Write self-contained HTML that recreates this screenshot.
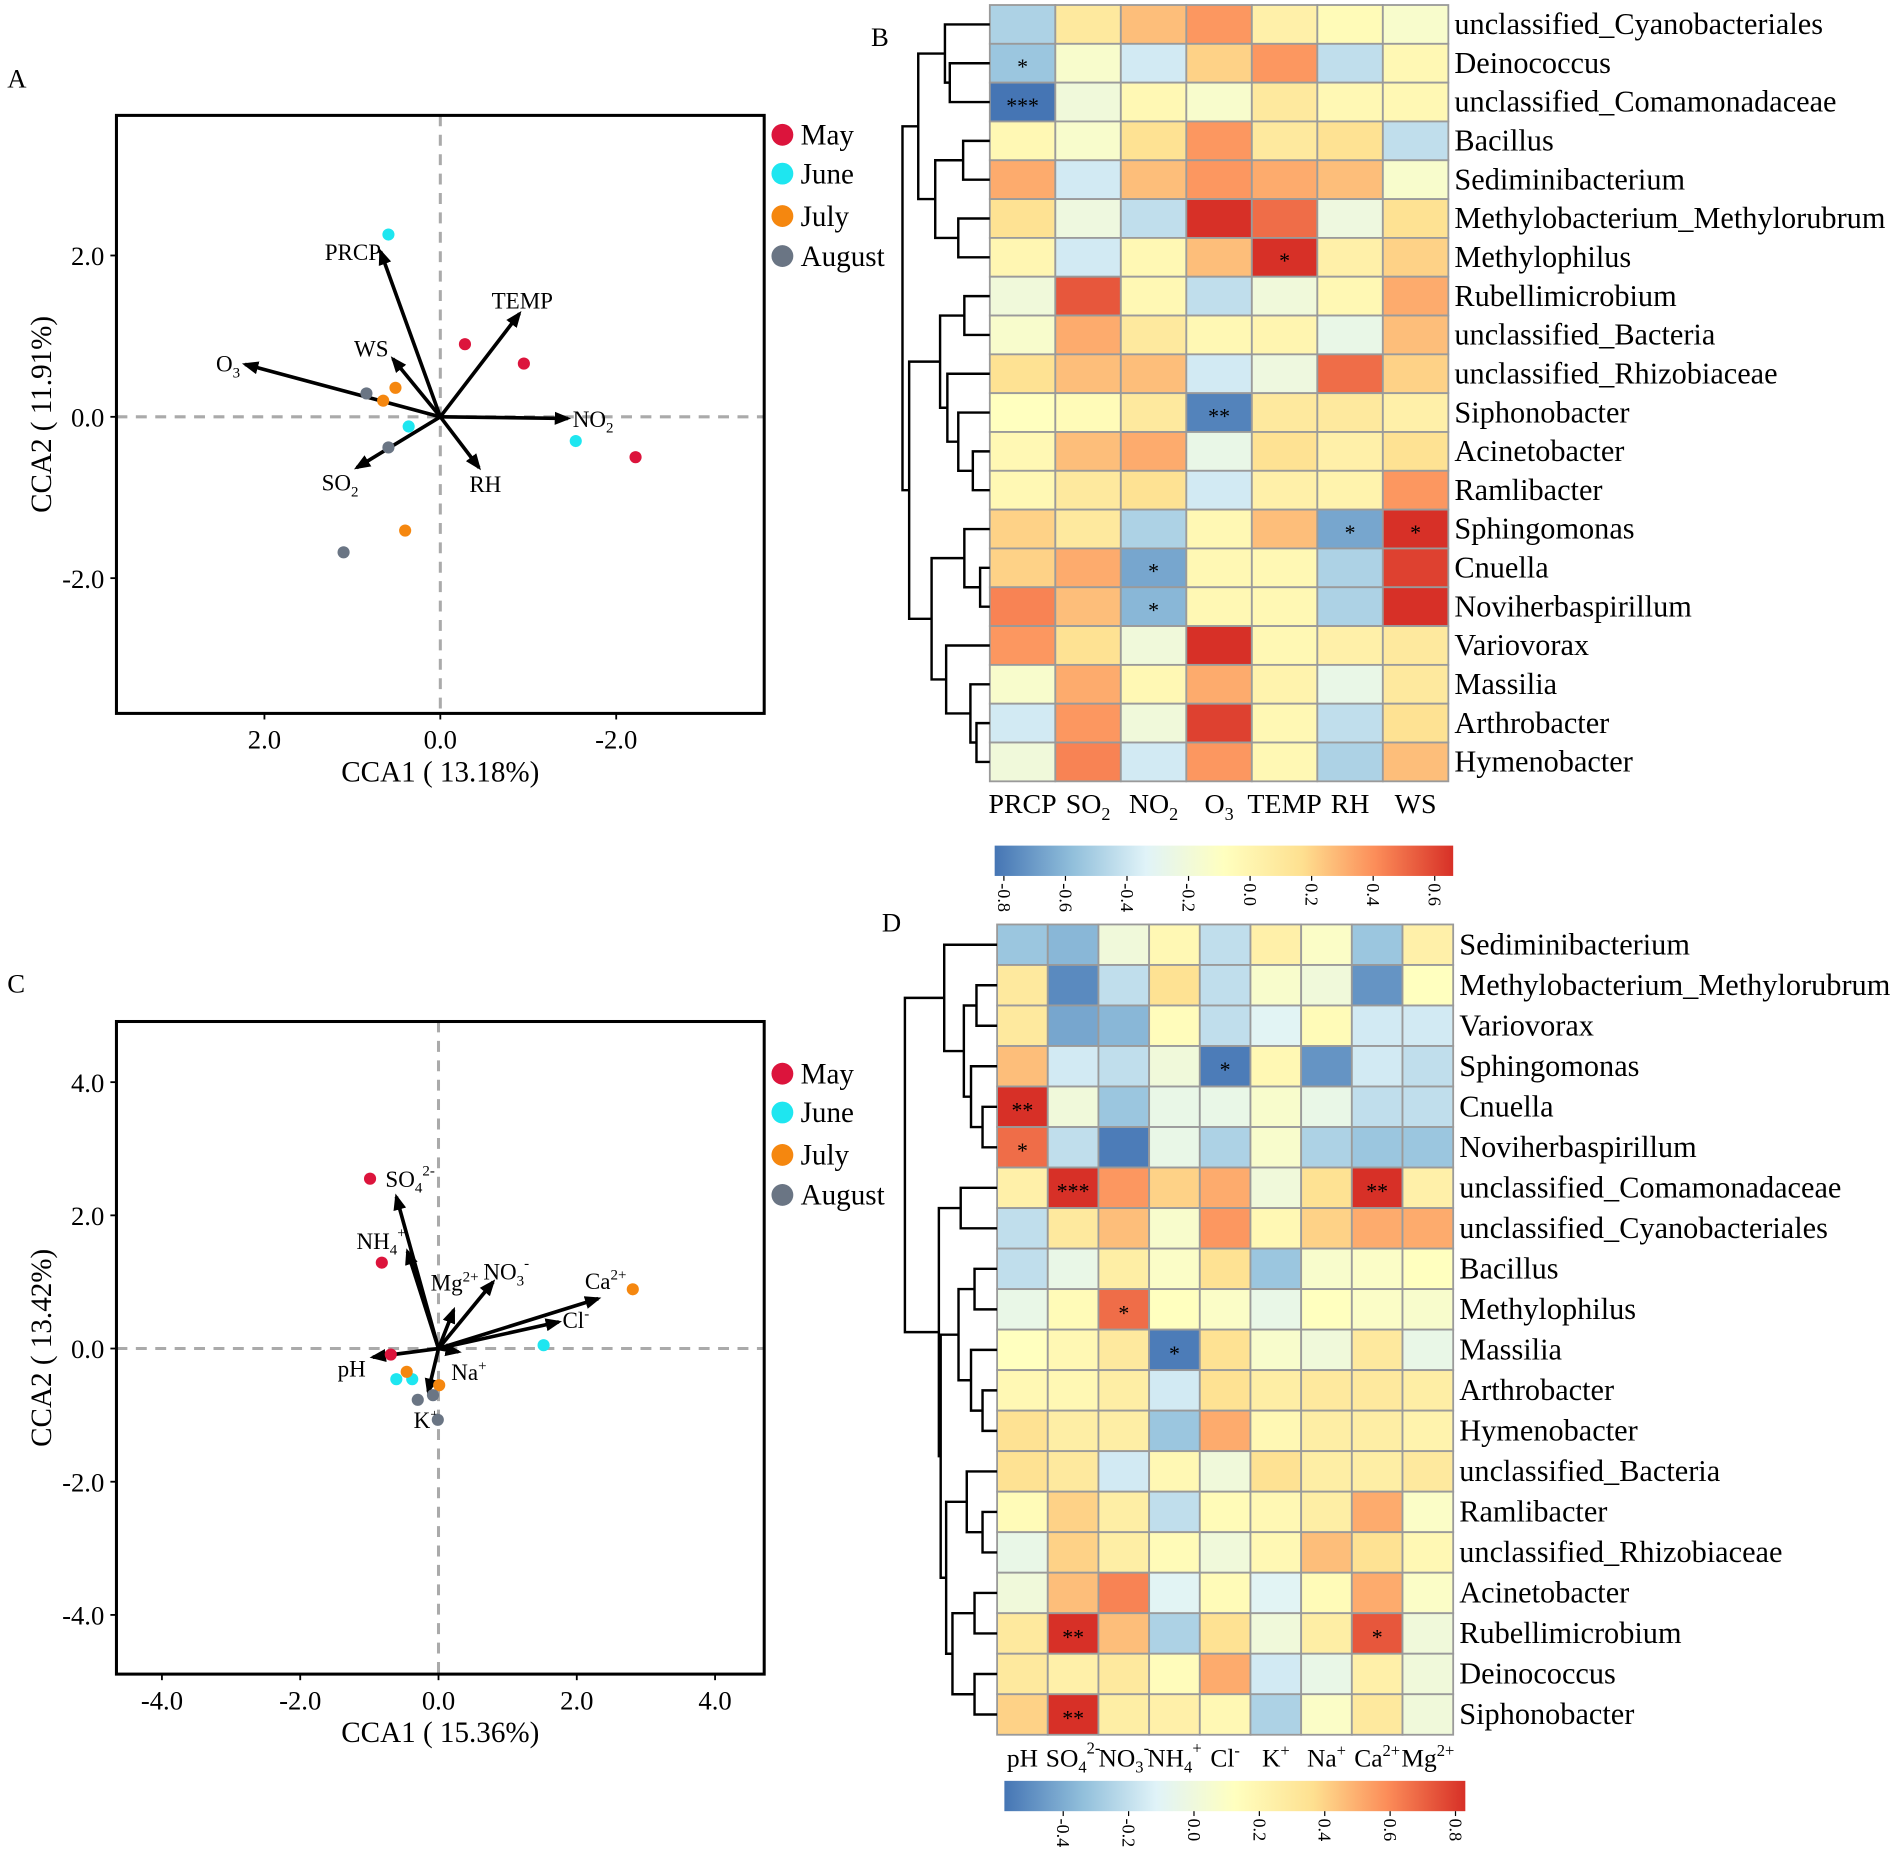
<!DOCTYPE html>
<html><head><meta charset="utf-8">
<style>
html,body{margin:0;padding:0;background:#fff;}
svg{display:block;font-family:"Liberation Serif",serif;}
</style></head>
<body>
<svg id="fig" width="1902" height="1855" viewBox="0 0 1568 1529" xmlns="http://www.w3.org/2000/svg">
<defs>
<marker id="ah" viewBox="0 0 10 10" refX="8" refY="5" markerWidth="4.5" markerHeight="4.5" orient="auto"><path d="M0,1 L10,5 L0,9 z" fill="#000"/></marker>
<linearGradient id="cbar" x1="0" x2="1" y1="0" y2="0">
<stop offset="0" stop-color="#4575b4"/><stop offset="0.17" stop-color="#91bfdb"/><stop offset="0.33" stop-color="#e0f3f8"/><stop offset="0.5" stop-color="#ffffbf"/><stop offset="0.67" stop-color="#fee090"/><stop offset="0.83" stop-color="#fc8d59"/><stop offset="1" stop-color="#d73027"/>
</linearGradient>
</defs>
<g id="root"></g>
</svg>
<script>
// ---------- Panel A data ----------
const aMayX=[-0.28,-0.95,-2.22], aMayY=[0.90,0.66,-0.50];
const aJunX=[0.59,0.36,-1.54], aJunY=[2.26,-0.12,-0.30];
const aJulX=[0.51,0.65,0.40], aJulY=[0.36,0.20,-1.41];
const aAugX=[0.84,0.59,1.10], aAugY=[0.29,-0.38,-1.68];
const aVarNames=["PRCP","TEMP","WS","O3","NO2","SO2","RH"];
const aVarX=[0.68,-0.90,0.54,2.22,-1.45,0.95,-0.44];
const aVarY=[2.05,1.28,0.72,0.65,-0.02,-0.63,-0.63];
const aXTicks=[2,0,-2], aYTicks=[2,0,-2];
// ---------- Panel C data ----------
const cMayX=[-0.99,-0.82,-0.69], cMayY=[2.55,1.29,-0.09];
const cJunX=[1.52,-0.61,-0.38], cJunY=[0.05,-0.46,-0.46];
const cJulX=[2.81,-0.46,0.01], cJulY=[0.89,-0.35,-0.55];
const cAugX=[-0.30,-0.08,-0.01], cAugY=[-0.77,-0.70,-1.07];
const cVarNames=["SO4","NH4","Mg","NO3","Ca","Cl","pH","Na","K"];
const cVarX=[-0.61,-0.45,0.22,0.79,2.31,1.74,-0.95,0.29,-0.15];
const cVarY=[2.28,1.46,0.58,1.00,0.75,0.40,-0.13,-0.05,-0.65];
const cXTicks=[-4,-2,0,2,4], cYTicks=[4,2,0,-2,-4];
// ---------- Panel B data ----------
const bRows=["unclassified_Cyanobacteriales","Deinococcus","unclassified_Comamonadaceae","Bacillus","Sediminibacterium","Methylobacterium_Methylorubrum","Methylophilus","Rubellimicrobium","unclassified_Bacteria","unclassified_Rhizobiaceae","Siphonobacter","Acinetobacter","Ramlibacter","Sphingomonas","Cnuella","Noviherbaspirillum","Variovorax","Massilia","Arthrobacter","Hymenobacter"];
const bCols=["PRCP","SO2","NO2","O3","TEMP","RH","WS"];
const bVals=[
[-0.35,0.15,0.30,0.40,0.10,0.03,-0.05],
[-0.40,-0.05,-0.25,0.25,0.40,-0.30,0.05],
[-0.75,-0.10,0.05,-0.05,0.15,0.05,0.05],
[0.05,-0.05,0.20,0.40,0.15,0.20,-0.30],
[0.35,-0.25,0.30,0.40,0.35,0.30,-0.05],
[0.20,-0.12,-0.30,0.65,0.50,-0.12,0.20],
[0.06,-0.25,0.05,0.30,0.70,0.10,0.25],
[-0.10,0.55,0.05,-0.30,-0.10,0.05,0.35],
[-0.05,0.35,0.15,0.05,0.07,-0.15,0.30],
[0.20,0.30,0.30,-0.25,-0.12,0.50,0.25],
[0.00,0.03,0.15,-0.60,0.15,0.15,0.10],
[0.05,0.30,0.35,-0.15,0.20,0.10,0.20],
[0.05,0.15,0.20,-0.25,0.10,0.08,0.40],
[0.25,0.15,-0.35,0.05,0.30,-0.50,0.75],
[0.25,0.35,-0.50,0.05,0.05,-0.35,0.60],
[0.45,0.30,-0.45,0.05,0.05,-0.35,0.65],
[0.40,0.20,-0.10,0.65,0.05,0.10,0.15],
[-0.05,0.35,0.05,0.35,0.08,-0.15,0.15],
[-0.25,0.40,-0.10,0.60,0.05,-0.30,0.20],
[-0.10,0.45,-0.25,0.40,0.05,-0.35,0.30]];
const bStars=[[1,0,"*"],[2,0,"***"],[6,4,"*"],[10,3,"**"],[13,5,"*"],[13,6,"*"],[14,2,"*"],[15,2,"*"]];
const bTicks=[-0.8,-0.6,-0.4,-0.2,0.0,0.2,0.4,0.6];
const bTree=[72,[59,[37,0,[33,1,2]],[45,[22,3,4],[26,5,6]]],[66.5,[41,[21,7,8],[35,9,[26,10,[14,11,12]]]],[48,[21,13,[8,14,15]],[36,16,[16,17,[11,18,19]]]]]];
// ---------- Panel D data ----------
const dRows=["Sediminibacterium","Methylobacterium_Methylorubrum","Variovorax","Sphingomonas","Cnuella","Noviherbaspirillum","unclassified_Comamonadaceae","unclassified_Cyanobacteriales","Bacillus","Methylophilus","Massilia","Arthrobacter","Hymenobacter","unclassified_Bacteria","Ramlibacter","unclassified_Rhizobiaceae","Acinetobacter","Rubellimicrobium","Deinococcus","Siphonobacter"];
const dCols=["pH","SO4","NO3","NH4","Cl","K","Na","Ca","Mg"];
const dVals=[
[-0.40,-0.45,-0.10,0.05,-0.30,0.10,-0.03,-0.40,0.10],
[0.15,-0.58,-0.30,0.20,-0.30,-0.05,-0.10,-0.55,0.00],
[0.15,-0.50,-0.45,0.02,-0.30,-0.20,0.03,-0.25,-0.25],
[0.30,-0.25,-0.30,-0.10,-0.62,0.05,-0.55,-0.25,-0.30],
[0.65,-0.10,-0.40,-0.15,-0.15,-0.05,-0.15,-0.30,-0.30],
[0.50,-0.30,-0.62,-0.15,-0.35,-0.05,-0.35,-0.40,-0.40],
[0.10,0.75,0.40,0.25,0.35,-0.10,0.20,0.65,0.10],
[-0.30,0.15,0.30,-0.05,0.40,0.05,0.25,0.35,0.35],
[-0.30,-0.15,0.12,-0.03,0.20,-0.40,-0.05,-0.03,0.00],
[-0.15,0.03,0.50,0.00,-0.03,-0.15,0.00,-0.03,-0.05],
[0.00,0.05,0.15,-0.62,0.20,-0.05,-0.10,0.15,-0.15],
[0.05,0.05,0.12,-0.25,0.20,0.12,0.15,0.15,0.12],
[0.20,0.12,0.12,-0.40,0.35,0.05,0.12,0.12,0.08],
[0.20,0.15,-0.25,0.05,-0.10,0.20,0.12,0.12,0.15],
[0.03,0.25,0.12,-0.30,0.03,0.05,0.12,0.35,-0.03],
[-0.15,0.25,0.12,0.03,-0.10,0.05,0.30,0.20,0.05],
[-0.10,0.30,0.45,-0.20,0.03,-0.20,0.03,0.35,-0.03],
[0.15,0.65,0.30,-0.35,0.20,-0.10,0.12,0.55,-0.10],
[0.15,0.10,0.15,0.02,0.35,-0.25,-0.15,0.10,-0.10],
[0.25,0.65,0.12,0.10,0.05,-0.35,-0.03,0.15,-0.10]];
const dStars=[[4,0,"**"],[5,0,"*"],[6,1,"***"],[6,7,"**"],[3,4,"*"],[9,2,"*"],[10,3,"*"],[17,1,"**"],[17,7,"*"],[19,1,"**"]];
const dTicks=[-0.4,-0.2,0.0,0.2,0.4,0.6,0.8];
const dTree=[76,[43.6,0,[27.4,[17,1,2],[21.5,3,[12,4,5]]]],[48,[30,6,7],[46.5,[31.8,[18.6,8,9],[21.5,10,[12,11,12]]],[42,[25,13,[12,14,15]],[36.8,[18.6,16,17],[18.6,18,19]]]]]];

const NS="http://www.w3.org/2000/svg";
const root=document.getElementById('root');
function mk(tag,attrs,parent){const e=document.createElementNS(NS,tag);for(const k in attrs)e.setAttribute(k,attrs[k]);(parent||root).appendChild(e);return e;}
function txt(x,y,s,size,anchor,parent){const t=mk('text',{x:x,y:y,'font-size':size,'text-anchor':anchor||'start',fill:'#000'},parent);t.textContent=s;return t;}
function richLabel(x,y,base,sub,sup,size,anchor,parent){
  const t=mk('text',{x:x,y:y,'font-size':size,'text-anchor':anchor||'start',fill:'#000'},parent);
  t.appendChild(document.createTextNode(base));
  if(sub){const s=mk('tspan',{'font-size':size*0.65,dy:size*0.25},t);s.textContent=sub;}
  if(sup){const s=mk('tspan',{'font-size':size*0.65,dy:sub?-size*0.75:-size*0.4},t);s.textContent=sup;}
  return t;}
const labelParts={PRCP:["PRCP"],TEMP:["TEMP"],WS:["WS"],RH:["RH"],O3:["O","3"],NO2:["NO","2"],SO2:["SO","2"],
 SO4:["SO","4","2-"],NH4:["NH","4","+"],Mg:["Mg","","2+"],NO3:["NO","3","-"],Ca:["Ca","","2+"],Cl:["Cl","","-"],pH:["pH"],Na:["Na","","+"],K:["K","","+"]};
function palette(v){
  const stops=["#4575b4","#91bfdb","#e0f3f8","#ffffbf","#fee090","#fc8d59","#d73027"];
  let t=(v*1.25+0.8)/1.6; t=Math.max(0,Math.min(1,t))*6; const i=Math.min(5,Math.floor(t)),f=t-i;
  const a=stops[i],b=stops[i+1];const p=(h,k)=>parseInt(h.substr(1+2*k,2),16);
  return 'rgb('+[0,1,2].map(k=>Math.round(p(a,k)+(p(b,k)-p(a,k))*f)).join(',')+')';}

function scatter(cfg){
  const g=mk('g',{});
  
  
  const sx=v=>cfg.x0+v*cfg.kx, sy=v=>cfg.y0-v*cfg.ky;
  mk('line',{x1:cfg.L,x2:cfg.R,y1:sy(0),y2:sy(0),stroke:'#aaa','stroke-width':2.5,'stroke-dasharray':'9,7'},g);
  mk('line',{x1:sx(0),x2:sx(0),y1:cfg.T,y2:cfg.B,stroke:'#aaa','stroke-width':2.5,'stroke-dasharray':'9,7'},g);
  const frame=mk('rect',{x:cfg.L,y:cfg.T,width:cfg.R-cfg.L,height:cfg.B-cfg.T,fill:'none',stroke:'#000','stroke-width':2.5},g);
  
  cfg.xt.forEach(v=>{mk('line',{x1:sx(v),x2:sx(v),y1:cfg.B,y2:cfg.B+5,stroke:'#000','stroke-width':1.5},g);
    const t=txt(sx(v),cfg.B+29,v.toFixed(1),22,'middle',g);});
  cfg.yt.forEach(v=>{mk('line',{x1:cfg.L-5,x2:cfg.L,y1:sy(v),y2:sy(v),stroke:'#000','stroke-width':1.5},g);
    const t=txt(cfg.L-10,sy(v)+8,v.toFixed(1),22,'end',g);});
  const xt=txt((cfg.L+cfg.R)/2,cfg.B+56,cfg.xTitle,24,'middle',g);
  const yt=mk('text',{x:0,y:0,'font-size':24,'text-anchor':'middle',transform:`translate(42,${(cfg.T+cfg.B)/2}) rotate(-90)`},g);yt.textContent=cfg.yTitle;
  
  cfg.vn.forEach((n,i)=>{
    const a=mk('line',{x1:sx(0),y1:sy(0),x2:sx(cfg.vx[i]),y2:sy(cfg.vy[i]),stroke:'#000','stroke-width':3,'marker-end':'url(#ah)'},g);
    
    const p=labelParts[n],o=cfg.lo[i];
    const l=richLabel(sx(cfg.vx[i])+o[0],sy(cfg.vy[i])+o[1],p[0],p[1],p[2],19,'start',g);
    });
  const cols=["#dc143c","#1ee6f0","#f5870f","#6a7584"], names=["May","June","July","August"];
  cfg.pts.forEach((s,k)=>{s[0].forEach((xv,i)=>{const c=mk('circle',{cx:sx(xv),cy:sy(s[1][i]),r:5,fill:cols[k]},g);
    });});
  names.forEach((n,k)=>{const yy=cfg.legY+[0,32,67,100][k];
    const e=mk('g',{},g);
    mk('circle',{cx:645,cy:yy,r:9,fill:cols[k]},e);txt(660,yy+8,n,24,'start',e);});
  const pl=txt(6,cfg.letY,cfg.letter,22,'start',g);
}
scatter({name:'cca-plot-a',letter:'A',letY:72,L:96,R:630,T:95,B:588,x0:363,kx:-72.5,y0:343.5,ky:66.5,xt:aXTicks,yt:aYTicks,
 xTitle:'CCA1 ( 13.18%)',yTitle:'CCA2 ( 11.91%)',vn:aVarNames,vx:aVarX,vy:aVarY,
 lo:[[-46,7],[-23,-4],[-32,-2],[-24,6],[4,7],[-29,19],[-8,20]],
 pts:[[aMayX,aMayY],[aJunX,aJunY],[aJulX,aJulY],[aAugX,aAugY]],legY:111});
scatter({name:'cca-plot-c',letter:'C',letY:818,L:96,R:630,T:842,B:1380,x0:361.5,kx:57,y0:1111.6,ky:54.9,xt:cXTicks,yt:cYTicks,
 xTitle:'CCA1 ( 15.36%)',yTitle:'CCA2 ( 13.42%)',vn:cVarNames,vx:cVarX,vy:cVarY,
 lo:[[-9,-8],[-42,-2],[-19,-16],[-8,-2],[-11,-8],[3,5],[-29,16],[-6,23],[-12,30]],
 pts:[[cMayX,cMayY],[cJunX,cJunY],[cJulX,cJulY],[cAugX,cAugY]],legY:885});

function heat(cfg){
  const g=mk('g',{});
  
  
  const nr=cfg.rows.length,nc=cfg.cols.length,cw=(cfg.R-cfg.L)/nc,rh=(cfg.B-cfg.T)/nr;
  const cx=j=>cfg.L+cw*j, ry=i=>cfg.T+rh*i;
  cfg.vals.forEach((row,i)=>row.forEach((v,j)=>{
    const r=mk('rect',{x:cx(j),y:ry(i),width:cw,height:rh,fill:palette(v),stroke:'#9a9a9a','stroke-width':1.5},g);
    }));
  cfg.stars.forEach(s=>{txt(cx(s[1])+cw/2,ry(s[0])+rh/2+9,s[2],18,'middle',g);});
  cfg.rows.forEach((n,i)=>{const t=txt(cfg.R+5,ry(i)+rh/2+8,n,25,'start',g);});
  cfg.cols.forEach((n,j)=>{const p=labelParts[n];const t=richLabel(cx(j)+cw/2,cfg.B+cfg.colDy,p[0],p[1],p[2],cfg.colFs,'middle',g);
    });
  function draw(node){
    if(typeof node==='number') return {y:ry(node)+rh/2,x:cfg.L};
    const a=draw(node[1]),b=draw(node[2]),x=cfg.L-node[0];
    mk('path',{d:`M${a.x},${a.y}H${x}V${b.y}H${b.x}`,fill:'none',stroke:'#000','stroke-width':2},g);
    return {y:(a.y+b.y)/2,x:x};}
  draw(cfg.tree);
  const cb=mk('rect',{x:cfg.cbL,y:cfg.cbT,width:cfg.cbR-cfg.cbL,height:25,fill:'url(#cbar)'},g);
  
  const sc=v=>cfg.cbL+(v-cfg.cbMin)/(cfg.cbMax-cfg.cbMin)*(cfg.cbR-cfg.cbL);
  cfg.ticks.forEach(v=>{const x=sc(v);mk('line',{x1:x,x2:x,y1:cfg.cbT+25,y2:cfg.cbT+29,stroke:'#000'},g);
    const t=mk('text',{x:0,y:0,'font-size':15,'text-anchor':'start',transform:`translate(${x-5},${cfg.cbT+31}) rotate(90)`},g);
    t.textContent=v.toFixed(1);});
  const pl=txt(cfg.letX,cfg.letY,cfg.letter,22,'start',g);
}
heat({name:'heatmap-b',letter:'B',letX:718,letY:38,L:816,R:1194,T:4,B:644,rows:bRows,cols:bCols,vals:bVals,stars:bStars,tree:bTree,colDy:26,colFs:23,
 cbL:820,cbR:1198,cbT:697,cbMin:-0.83,cbMax:0.66,ticks:bTicks});
heat({name:'heatmap-d',letter:'D',letX:727,letY:768,L:822,R:1198,T:762,B:1430,rows:dRows,cols:dCols,vals:dVals,stars:dStars,tree:dTree,colDy:26,colFs:21,
 cbL:828,cbR:1208,cbT:1468,cbMin:-0.58,cbMax:0.83,ticks:dTicks});
</script>
</body></html>
